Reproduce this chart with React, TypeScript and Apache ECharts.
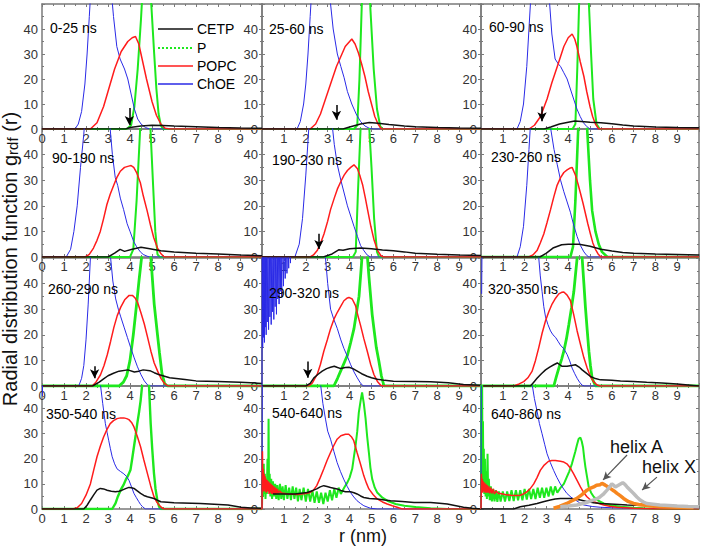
import React, { useEffect, useRef } from 'react';
import * as echarts from 'echarts';

type Pt = [number, number];

const FONT = '"Liberation Sans", Arial, Helvetica, sans-serif';

// ---- panel time windows ----
const panelLabels = ['0-25 ns', '25-60 ns', '60-90 ns', '90-190 ns', '190-230 ns', '230-260 ns',
  '260-290 ns', '290-320 ns', '320-350 ns', '350-540 ns', '540-640 ns', '640-860 ns'];

const seriesNames = ['CETP', 'P', 'POPC', 'ChOE'];

// ---- Panel 1: 0-25 ns ----
const cetp1: Pt[] = [[0,0],[3.8,0],[4.0,0.6],[4.5,1.2],[5.0,1.5],[5.5,1.4],[6.0,1.2],[7.0,0.9],[8.0,0.6],[9.0,0.4],[10,0.3]];
const p1: Pt[] = [[0,0],[3.85,0],[4.05,1.5],[4.2,9],[4.35,24],[4.5,44],[4.6,60],[4.75,90],[4.9,60],[5.0,45],[5.1,30],[5.2,16],[5.3,6],[5.4,1.5],[5.5,0],[10,0]];
const popc1: Pt[] = [[0,0],[2.2,0],[2.5,2.5],[2.8,9],[3.0,15],[3.3,24],[3.6,31],[3.9,35],[4.1,36.5],[4.25,37],[4.4,34],[4.55,28],[4.75,20],[5.0,11],[5.2,5.5],[5.4,2],[5.6,0.3],[5.8,0],[10,0]];
const choe1: Pt[] = [[0,0],[1.5,0],[1.65,2],[1.8,7],[1.95,18],[2.05,30],[2.15,45],[2.25,60],[2.7,120],[3.1,60],[3.25,45],[3.4,33],[3.55,28],[3.75,24],[3.9,20],[4.05,14],[4.2,8],[4.35,4],[4.5,2],[4.7,0.6],[4.9,0],[10,0]];

// ---- Panel 2: 25-60 ns ----
const cetp2: Pt[] = [[0,0],[3.7,0],[4.0,0.8],[4.5,2],[4.9,2.6],[5.3,2.3],[5.8,1.8],[6.5,1.2],[7,0.9],[8,0.6],[9,0.4],[10,0.3]];
const p2: Pt[] = [[0,0],[4.2,0],[4.35,1.5],[4.45,20],[4.55,48],[4.75,95],[4.95,48],[5.1,24],[5.25,8],[5.4,1],[5.5,0],[10,0]];
const popc2: Pt[] = [[0,0],[2.2,0],[2.45,2],[2.67,6],[2.9,12],[3.13,18],[3.4,25],[3.6,29],[3.8,33],[4.0,35],[4.1,36],[4.25,34],[4.4,30.5],[4.55,26],[4.7,21],[4.85,15],[5.0,10],[5.15,5],[5.3,2],[5.45,0],[10,0]];
const choe2: Pt[] = [[0,0],[1.6,0],[1.75,3],[1.9,10],[2.0,18],[2.1,30],[2.2,45],[2.3,60],[2.7,120],[3.0,65],[3.13,50],[3.25,40],[3.44,30],[3.6,25],[3.75,20.5],[3.9,15],[4.1,10],[4.3,6],[4.5,3],[4.7,1.2],[4.9,0.3],[5.1,0],[10,0]];

// ---- Panel 3: 60-90 ns ----
const cetp3: Pt[] = [[0,0],[2.9,0],[3.2,0.8],[3.6,2],[4.0,2.7],[4.3,3.2],[4.6,3.0],[5.0,2.7],[5.5,2.5],[6.0,2.1],[6.5,1.6],[7,1.2],[8,0.8],[9,0.6],[10,0.5]];
const p3: Pt[] = [[0,0],[4.2,0],[4.33,2],[4.42,25],[4.5,50],[4.72,95],[4.95,50],[5.05,30],[5.15,12],[5.3,2],[5.45,0],[10,0]];
const popc3: Pt[] = [[0,0],[2.2,0],[2.45,1.5],[2.73,5],[3.03,12],[3.25,18.5],[3.5,25],[3.8,33],[4.0,36.5],[4.18,38],[4.3,36],[4.4,33],[4.55,27],[4.72,21],[4.85,15],[5.0,9],[5.12,5],[5.25,2],[5.4,0],[10,0]];
const choe3: Pt[] = [[0,0],[1.65,0],[1.8,3],[1.95,10],[2.1,25],[2.2,40],[2.3,55],[2.7,120],[3.05,62],[3.15,50],[3.25,38],[3.4,28],[3.55,26],[3.65,25],[3.8,22.5],[3.95,20],[4.1,16],[4.25,12],[4.4,8],[4.55,5],[4.7,2.5],[4.85,1],[5.0,0],[10,0]];

// ---- Panel 4: 90-190 ns ----
const cetp4: Pt[] = [[0,0],[3.0,0],[3.3,1.5],[3.55,3],[3.75,2.2],[4.1,3],[4.5,3.8],[4.9,3.2],[5.4,2.4],[6,2],[7,1.5],[8,1.2],[9,0.8],[10,0.5]];
const p4: Pt[] = [[0,0],[4.0,0],[4.15,3],[4.3,22],[4.45,48],[4.7,95],[4.93,50],[5.05,28],[5.15,10],[5.25,1],[5.35,0],[10,0]];
const popc4: Pt[] = [[0,0],[1.96,0],[2.15,1],[2.34,3.5],[2.5,6.5],[2.65,10],[2.8,15],[2.95,20.5],[3.1,24.5],[3.26,28],[3.4,31],[3.56,33.5],[3.75,35],[3.94,35.5],[4.05,35.7],[4.17,35],[4.3,33],[4.47,29],[4.6,24],[4.78,18],[4.93,12.5],[5.08,7.5],[5.25,3.5],[5.39,1.5],[5.55,0],[10,0]];
const choe4: Pt[] = [[0,0],[1.1,0],[1.3,3],[1.45,10],[1.6,20],[1.75,35],[1.9,48],[2.0,60],[2.6,120],[3.0,65],[3.1,50],[3.2,40],[3.33,31],[3.44,28],[3.56,23],[3.71,18.5],[3.87,13],[4.0,10],[4.17,6],[4.3,4],[4.47,2],[4.6,1],[4.78,0.3],[4.9,0],[10,0]];

// ---- Panel 5: 190-230 ns ----
const cetp5: Pt[] = [[0,0],[2.8,0],[3.2,1.2],[3.5,2.8],[3.7,2.6],[4.0,3.2],[4.5,3.5],[5.0,3.2],[5.5,2.7],[6,2.4],[6.5,2],[7,1.5],[8,1.1],[9,0.8],[10,0.6]];
const p5: Pt[] = [[0,0],[4.15,0],[4.28,2],[4.38,25],[4.5,50],[4.7,95],[4.9,50],[5.0,35],[5.12,15],[5.25,2],[5.35,0],[10,0]];
const popc5: Pt[] = [[0,0],[2.2,0],[2.35,0.8],[2.52,2.5],[2.68,5.5],[2.83,9],[3.0,14],[3.13,18.5],[3.3,23],[3.44,26.5],[3.6,29.5],[3.75,32],[3.9,33.8],[4.05,35],[4.2,36],[4.36,34.5],[4.48,31.5],[4.6,28],[4.72,23],[4.82,18.5],[4.97,12],[5.12,6.5],[5.28,2.5],[5.43,0.5],[5.55,0],[10,0]];
const choe5: Pt[] = [[0,0],[1.5,0],[1.7,5],[1.85,15],[2.0,32],[2.15,52],[2.7,120],[3.1,62],[3.2,52],[3.3,44],[3.44,36],[3.6,30],[3.75,25],[3.9,20],[4.05,16],[4.2,12],[4.36,8],[4.5,4.5],[4.66,2.4],[4.8,0.8],[4.95,0],[10,0]];

// ---- Panel 6: 230-260 ns ----
const cetp6: Pt[] = [[0,0],[2.7,0],[3.0,1.5],[3.3,3.5],[3.7,4.8],[4.0,5],[4.5,5],[5.0,4.2],[5.5,3],[6,2.3],[6.5,1.8],[7,1.5],[8,1.2],[9,1],[10,0.8]];
const p6: Pt[] = [[0,0],[4.1,0],[4.22,4],[4.33,22],[4.45,48],[4.65,90],[4.87,50],[5.0,30],[5.1,18],[5.25,10],[5.4,5],[5.55,2],[5.8,0],[10,0]];
const popc6: Pt[] = [[0,0],[2.19,0],[2.38,0.8],[2.57,2.5],[2.72,5.5],[2.88,9],[3.03,13.5],[3.19,18.5],[3.34,23.5],[3.49,28],[3.65,31],[3.8,33],[3.95,34],[4.1,34.8],[4.18,35],[4.33,32],[4.45,28.5],[4.56,25],[4.68,21],[4.79,17],[4.9,13],[5.02,9],[5.13,5.5],[5.25,3],[5.37,1.2],[5.5,0],[10,0]];
const choe6: Pt[] = [[0,0],[1.65,0],[1.8,4],[1.95,12],[2.1,28],[2.2,42],[2.3,56],[2.7,120],[3.1,62],[3.2,50],[3.35,42],[3.5,36],[3.65,30],[3.8,25.5],[3.95,21.5],[4.1,17.5],[4.25,12.5],[4.41,8],[4.56,4.5],[4.72,2],[4.85,0.6],[4.95,0],[10,0]];

// ---- Panel 7: 260-290 ns ----
const cetp7: Pt[] = [[0,0],[2.3,0],[2.6,1.5],[2.8,2.8],[3.0,4],[3.25,5],[3.5,5.8],[3.9,6.3],[4.2,5.5],[4.4,5.8],[4.6,6.3],[4.9,6],[5.1,5.2],[5.3,4.5],[5.8,3.2],[6.5,2.5],[7,2],[8,1.8],[9,1.5],[10,1]];
const p7: Pt[] = [[0,0],[3.5,0],[3.7,1.5],[3.85,4],[4.0,10],[4.15,20],[4.3,32],[4.42,42],[4.55,52],[4.75,60],[4.95,50],[5.1,32],[5.25,20],[5.34,13],[5.45,5],[5.57,1],[5.7,0],[10,0]];
const popc7: Pt[] = [[0,0],[2.28,0],[2.45,1.5],[2.66,4.4],[2.82,8],[2.97,12.3],[3.12,17.5],[3.27,23],[3.42,27.5],[3.58,30.8],[3.77,33.8],[3.96,35.4],[4.11,35.4],[4.22,34.5],[4.34,32.8],[4.5,28.5],[4.65,24.2],[4.8,19],[4.95,13.6],[5.1,9],[5.26,5.7],[5.42,2.8],[5.57,1],[5.72,0],[10,0]];
const choe7: Pt[] = [[0,0],[1.67,0],[1.8,3],[1.9,8],[2.0,18],[2.1,32],[2.2,50],[2.7,120],[3.05,60],[3.12,50],[3.22,41],[3.35,34],[3.47,30],[3.58,27],[3.73,23],[3.88,19],[4.03,15],[4.19,11],[4.34,7.5],[4.5,4.4],[4.65,2],[4.8,0.4],[4.9,0],[10,0]];

// ---- Panel 8: 290-320 ns ----
const cetp8: Pt[] = [[0,0],[2.0,0],[2.2,1],[2.37,3.2],[2.55,4.5],[2.75,5.8],[2.95,6.8],[3.13,7.3],[3.3,7.7],[3.45,7.2],[3.6,6.8],[3.8,7.2],[3.97,7.3],[4.15,6.8],[4.35,5.8],[4.55,4.8],[4.8,3.8],[5.0,3.2],[5.27,2.6],[5.6,2.2],[6.0,1.9],[7.0,1.8],[7.7,1.7],[8.5,1.3],[9.2,0.6],[10,0.3]];
const p8: Pt[] = [[0,0],[3.28,0],[3.45,3],[3.59,5.8],[3.75,9],[3.9,12],[4.05,17],[4.2,22.4],[4.32,29],[4.43,35],[4.52,45],[4.58,52],[4.7,58],[4.8,52],[4.88,43],[4.96,35],[5.03,28],[5.11,22.4],[5.22,15],[5.34,9.6],[5.45,4],[5.57,0],[10,0]];
const popc8: Pt[] = [[0,0],[2.14,0],[2.3,1.2],[2.52,4.5],[2.67,8.5],[2.82,13.5],[2.98,18],[3.13,22.4],[3.28,26],[3.44,28.8],[3.6,31.2],[3.74,33.3],[3.9,34.4],[3.97,34.6],[4.12,34],[4.27,31.4],[4.38,27.5],[4.5,23.7],[4.65,18.5],[4.81,13.5],[4.96,8.5],[5.11,4.5],[5.27,1.8],[5.42,0.3],[5.5,0],[10,0]];
const choe8: Pt[] = [[0,0],[0.01,70],[0.03,15],[0.05,62],[0.07,19],[0.09,58],[0.11,17],[0.13,66],[0.15,23],[0.17,55],[0.19,20],[0.21,61],[0.24,25],[0.27,57],[0.3,22],[0.33,64],[0.36,27],[0.39,58],[0.42,24],[0.45,62],[0.48,29],[0.51,59],[0.54,26],[0.57,65],[0.6,31],[0.63,60],[0.66,28],[0.69,63],[0.72,34],[0.75,58],[0.78,32],[0.81,62],[0.84,37],[0.87,60],[0.9,35],[0.94,64],[0.98,39],[1.02,61],[1.06,42],[1.1,65],[1.14,44],[1.18,62],[1.22,46],[1.26,66],[1.3,48],[1.35,70],[1.45,90],[2.4,120],[2.8,62],[2.9,50],[3.0,40],[3.13,30],[3.28,26],[3.44,22.4],[3.6,18],[3.74,14.7],[3.9,11.5],[4.05,8.3],[4.2,5.5],[4.35,3.2],[4.47,1.5],[4.58,0.3],[4.65,0],[10,0]];

// ---- Panel 9: 320-350 ns ----
const cetp9: Pt[] = [[0,0],[2.27,0],[2.42,1.5],[2.57,3],[2.77,4.8],[2.96,6.3],[3.15,7.4],[3.34,8.3],[3.5,9],[3.6,8.4],[3.72,7.7],[3.95,7.7],[4.15,8],[4.33,8.3],[4.5,7.4],[4.64,6.3],[4.83,5],[5.02,3.7],[5.25,2.9],[5.48,2.4],[6.0,2.2],[6.4,2],[7.0,1.8],[7.6,1.5],[8.3,1.2],[9,0.8],[9.5,0.4],[10,0]];
const p9: Pt[] = [[0,0],[3.34,0],[3.45,3.5],[3.57,7],[3.7,10.5],[3.8,13.6],[3.92,18.5],[4.03,24],[4.15,30.5],[4.26,37],[4.34,44],[4.41,50],[4.52,60],[4.64,50],[4.72,40],[4.79,30.8],[4.87,22],[4.95,13.6],[5.02,8],[5.1,3],[5.25,0],[10,0]];
const popc9: Pt[] = [[0,0],[1.5,0],[1.75,0.8],[1.96,1.7],[2.15,3.2],[2.34,5.7],[2.5,10],[2.65,15],[2.8,20.5],[2.96,25.5],[3.11,29],[3.26,32],[3.42,34.3],[3.57,36],[3.7,36.6],[3.8,36.7],[3.95,35.5],[4.1,33.4],[4.25,28],[4.41,21.5],[4.57,16],[4.72,11],[4.87,7],[5.02,3.7],[5.17,1.6],[5.33,0.4],[5.45,0],[10,0]];
const choe9: Pt[] = [[0.03,36],[0.07,80],[2.55,120],[2.65,50],[2.72,43],[2.8,37],[2.88,31],[2.96,27],[3.07,24],[3.19,21.5],[3.3,20],[3.42,19],[3.53,17.5],[3.64,16],[3.8,14.5],[3.95,12.3],[4.07,9.8],[4.18,7],[4.3,4.8],[4.41,3],[4.52,1.5],[4.64,0.3],[4.75,0],[10,0]];

// ---- Panel 10: 350-540 ns ----
const cetp10: Pt[] = [[0,0],[1.9,0],[2.05,1.5],[2.2,3.6],[2.35,5.6],[2.5,7.5],[2.65,8.2],[2.8,8],[2.96,7.5],[3.15,7.1],[3.34,6.9],[3.5,7.1],[3.64,7.5],[3.8,8.1],[3.95,8.6],[4.07,8.5],[4.18,8.2],[4.33,7.2],[4.48,6.2],[4.63,5.4],[4.79,4.9],[5.09,4.2],[5.25,3.5],[5.4,2.9],[6,2.5],[7.2,2.2],[8.45,1.6],[9.05,0.7],[9.5,0.4],[10,0.3]];
const p10: Pt[] = [[0,0],[3.19,0],[3.34,2.2],[3.45,5],[3.57,7.5],[3.7,9.5],[3.8,11.5],[3.92,13.5],[4.02,15.5],[4.1,20],[4.18,24.8],[4.26,29.5],[4.33,34],[4.41,38.5],[4.48,43],[4.56,50],[4.7,60],[4.86,50],[4.94,34],[5.01,24],[5.09,14.2],[5.16,8],[5.24,3.6],[5.32,1],[5.4,0],[10,0]];
const popc10: Pt[] = [[0,0],[1.4,0],[1.6,0.5],[1.8,2.2],[2.0,5.5],[2.2,10],[2.35,15.5],[2.5,20.8],[2.65,25],[2.8,28.7],[2.95,31.6],[3.1,34],[3.25,35.2],[3.41,36],[3.57,36.3],[3.72,36.3],[3.85,36],[3.95,35.6],[4.07,34.5],[4.18,32.7],[4.33,29],[4.48,24.8],[4.63,19.5],[4.79,14.2],[4.94,9.2],[5.09,4.9],[5.2,3],[5.32,1.6],[5.45,0.5],[5.55,0],[10,0]];
const choe10: Pt[] = [[0.02,45],[0.05,80],[2.5,120],[2.65,50],[2.76,42],[2.88,34],[2.96,30.5],[3.03,27.4],[3.11,24],[3.19,20.8],[3.3,18],[3.41,16],[3.56,15],[3.72,14],[3.84,13],[3.95,11.5],[4.07,8.8],[4.18,6.2],[4.29,4.5],[4.4,2.9],[4.48,1.8],[4.56,1],[4.7,0],[10,0]];

// ---- Panel 11: 540-640 ns ----
const cetp11: Pt[] = [[0.5,6],[0.8,6],[1.5,6],[2.06,6.6],[2.3,7.3],[2.5,8],[2.66,8.8],[2.82,9.3],[2.97,9],[3.13,8.6],[3.28,8.3],[3.43,8],[3.6,7.4],[3.81,6.9],[4.04,6.9],[4.2,6.5],[4.34,6],[4.5,5.2],[4.65,4.6],[4.9,4.2],[5.26,4],[5.6,3.6],[5.87,3.3],[6.4,3],[6.94,2.6],[7.7,2.6],[8.1,2.3],[8.46,2],[8.8,1.4],[9.2,0.7],[9.6,0.3],[10,0]];
const p11: Pt[] = [[0,0],[0.02,12],[0.05,5],[0.08,18],[0.1,6],[0.13,14],[0.16,4],[0.19,11],[0.22,6],[0.25,20],[0.28,8],[0.3,36],[0.32,9],[0.35,14],[0.38,5],[0.42,12],[0.46,4],[0.5,11],[0.55,5],[0.6,10],[0.65,4],[0.7,9.5],[0.76,3.5],[0.82,10],[0.88,4],[0.94,9],[1.0,3.5],[1.08,9.5],[1.16,4],[1.24,8.5],[1.32,3.5],[1.4,9],[1.48,4],[1.56,8.5],[1.64,3],[1.72,8],[1.8,3.5],[1.9,8.5],[2.0,3],[2.1,8],[2.2,3],[2.3,7.5],[2.4,2.5],[2.5,7],[2.6,2.5],[2.7,6.5],[2.8,2],[2.9,6.5],[3.0,3],[3.1,7.5],[3.2,3.5],[3.3,8],[3.4,4.5],[3.5,8.5],[3.6,6],[3.75,8.5],[3.9,10.6],[4.0,12.5],[4.12,16],[4.2,21],[4.27,25],[4.35,31],[4.42,38.4],[4.5,43],[4.57,46.4],[4.65,42],[4.73,36],[4.8,29],[4.88,22.5],[4.95,16.5],[5.03,12],[5.15,8.5],[5.26,6.6],[5.5,4.5],[5.72,3.3],[6.1,2],[6.5,1.3],[7.0,0.8],[7.7,0.3],[8.5,0],[10,0]];
const popc11: Pt[] = [[0,0],[0.02,23],[0.04,9],[0.06,16],[0.08,7],[0.1,14],[0.12,8],[0.14,13],[0.16,7],[0.18,12],[0.2,6.5],[0.23,11.5],[0.26,7],[0.29,11],[0.32,6],[0.35,10.5],[0.38,6.5],[0.41,10],[0.44,6],[0.47,9.5],[0.5,6],[0.54,9],[0.58,5.8],[0.62,8.5],[0.66,6],[0.7,8],[0.75,6.2],[0.8,7.2],[0.9,6.4],[1.2,6],[1.6,5.8],[2.0,6.2],[2.2,6.6],[2.35,7.5],[2.5,9.3],[2.66,12.5],[2.82,15.9],[2.97,19.3],[3.13,22.5],[3.28,25.3],[3.43,27.8],[3.6,29.2],[3.81,29.8],[3.96,29.8],[4.08,28.8],[4.19,27.2],[4.34,22.5],[4.5,17.8],[4.65,13.2],[4.77,10.3],[4.88,8],[5.07,5.8],[5.26,4],[5.5,2.8],[5.72,2],[5.95,1.3],[6.17,0.7],[6.4,0],[10,0]];
const choe11: Pt[] = [[0,0],[0.02,80],[2.5,120],[2.67,50],[2.78,42],[2.9,35.8],[3.0,31],[3.13,27.8],[3.28,23],[3.43,18.5],[3.58,15],[3.73,11.9],[3.89,9],[4.04,6.6],[4.19,4.8],[4.34,3.3],[4.5,2.2],[4.65,1.3],[4.95,0.3],[5.26,0],[10,0]];

// ---- Panel 12: 640-860 ns ----
const cetp12: Pt[] = [[0,0],[1.5,0],[1.8,0.9],[2.2,1.5],[2.57,2.2],[2.9,3],[3.18,3.6],[3.4,4],[3.64,4.2],[4.1,4.2],[4.35,3.9],[4.56,3.6],[4.85,3],[5.17,2.5],[5.5,2.2],[5.93,2],[6.7,1.6],[7.5,1.4],[8.2,1.2],[9,0.9],[9.9,0.6],[10,0.6]];
const p12: Pt[] = [[0,0],[0.01,80],[0.03,12],[0.05,55],[0.07,10],[0.09,35],[0.11,8],[0.13,24],[0.15,6],[0.18,20],[0.21,5],[0.24,15],[0.27,4],[0.3,22],[0.33,5],[0.36,12],[0.4,3.5],[0.45,9],[0.5,3],[0.56,8],[0.62,3],[0.68,7.5],[0.75,2.8],[0.82,7],[0.9,3],[1.0,7],[1.1,3],[1.2,7],[1.3,3.2],[1.4,7.5],[1.5,3.2],[1.6,7.5],[1.7,3.5],[1.8,7.5],[1.9,3.5],[2.0,8],[2.1,3.8],[2.2,8],[2.3,4],[2.4,8],[2.5,4],[2.6,8.5],[2.7,4.5],[2.8,8.5],[2.9,4.5],[3.0,8.5],[3.1,5],[3.2,9],[3.3,5.5],[3.4,9],[3.5,6.5],[3.65,8.5],[3.8,10],[3.94,12.8],[4.05,15],[4.17,18],[4.25,20.5],[4.33,23],[4.4,25.5],[4.48,28],[4.56,28.5],[4.62,27],[4.68,24.6],[4.74,20],[4.79,16.7],[4.87,12.5],[4.94,8.8],[5.05,6.5],[5.17,4.9],[5.4,3.2],[5.63,2.2],[6.0,1.4],[6.4,0.9],[7.0,0.5],[7.46,0.3],[8.2,0],[10,0]];
const popc12: Pt[] = [[0,0],[0.02,14],[0.04,7],[0.06,12],[0.08,6.5],[0.1,11],[0.13,7],[0.16,10.5],[0.19,6.5],[0.22,10],[0.25,6.5],[0.28,9.5],[0.32,6.5],[0.36,9],[0.4,6.2],[0.45,8.5],[0.5,6.2],[0.56,8],[0.62,6],[0.7,7.2],[0.8,6.2],[0.89,6.2],[1.1,5.8],[1.35,5.5],[1.6,5.4],[1.8,5.5],[1.95,6],[2.1,6.8],[2.25,8],[2.42,10],[2.57,12.5],[2.72,15.4],[2.9,17.5],[3.1,19],[3.25,19.3],[3.41,19.3],[3.64,19],[3.8,18.7],[3.94,18],[4.1,16.3],[4.25,14],[4.4,11.5],[4.56,8.8],[4.7,6.7],[4.86,4.9],[5.0,3.8],[5.17,2.9],[5.4,2.2],[5.63,1.6],[5.9,1.1],[6.24,0.7],[7,0.3],[8,0],[10,0]];
const choe12: Pt[] = [[0,0],[0.02,80],[2.2,120],[2.34,50],[2.45,44],[2.57,39],[2.68,34],[2.8,30],[2.92,25.8],[3.03,22],[3.18,18.5],[3.33,15.4],[3.48,12.6],[3.64,10],[3.79,8],[3.94,6.2],[4.13,4.7],[4.33,3.6],[4.52,2.5],[4.71,1.6],[5.1,1],[5.47,0.7],[6.0,0.5],[6.7,0.3],[7.5,0.1],[10,0]];
const helixA12: Pt[] = [[3.33,0.3],[3.6,1],[3.94,2.2],[4.15,3.2],[4.4,4.2],[4.6,5.5],[4.86,7.5],[5.0,8.2],[5.17,8.8],[5.3,9.5],[5.47,9.7],[5.55,10.2],[5.7,9.5],[5.8,9],[5.93,8.2],[6.1,7.2],[6.24,6.2],[6.4,5.2],[6.54,4.2],[6.75,3],[7.0,2.2],[7.23,1.8],[7.46,1.6],[7.8,1.2],[8.2,0.9],[9.0,0.7],[9.75,0.6]];
const helixX12: Pt[] = [[3.64,0.9],[4.0,1.2],[4.4,1.6],[4.8,2.5],[5.17,3.6],[5.35,4.2],[5.47,4.9],[5.6,5.8],[5.78,7.5],[5.9,8.8],[6.0,10],[6.08,9.5],[6.16,8.8],[6.3,9.5],[6.4,10],[6.5,10.5],[6.6,9.8],[6.7,8.8],[6.85,7.5],[7.0,6.2],[7.15,4.8],[7.3,3.6],[7.45,2.8],[7.6,2.2],[7.9,1.9],[8.2,1.6],[8.6,1.4],[9.0,1.2],[9.5,1],[10,0.9]];

const cetpAll = [cetp1, cetp2, cetp3, cetp4, cetp5, cetp6, cetp7, cetp8, cetp9, cetp10, cetp11, cetp12];
const pAll = [p1, p2, p3, p4, p5, p6, p7, p8, p9, p10, p11, p12];
const popcAll = [popc1, popc2, popc3, popc4, popc5, popc6, popc7, popc8, popc9, popc10, popc11, popc12];
const choeAll = [choe1, choe2, choe3, choe4, choe5, choe6, choe7, choe8, choe9, choe10, choe11, choe12];

// down arrows (panel index, r, y from, y to) in data units
const arrowPanels = [0, 1, 2, 4, 6, 7];
const arrowR = [3.97, 3.4, 2.8, 2.6, 2.39, 2.09];
const arrowTop = [8.4, 9.6, 9.0, 9.1, 7.7, 9.6];
const arrowBottom = [1.6, 3.7, 3.1, 3.1, 3.0, 3.2];

// ---- layout ----
const colLeft = [42, 262, 481];
const colWidth = [220, 219, 218];
const rowTop = [4, 129, 258, 386];
const rowHeight = [125, 128, 128, 123];
const rowMax = [50, 50, 50, 49];
const labelPos: [number, number][] = [[50, 28], [269, 29], [489, 27], [52, 158], [272, 160], [491, 157],
  [48, 289], [269, 293], [488, 289], [46, 414], [272, 413], [491, 414]];
const greenWidth = [2, 2, 2, 2, 2, 2.6, 2.8, 2.8, 2.8, 2.4, 2, 2];

const C_BLACK = '#111111';
const C_GREEN = '#1ee81e';
const C_RED = '#ff1c1c';
const C_BLUE = '#2a2ae6';
const C_ORANGE = '#f7861e';
const C_GREY = '#bdbdbd';
const AXIS = '#7a7a7a';

function buildOption() {
  const grid: any[] = [];
  const xAxis: any[] = [];
  const yAxis: any[] = [];
  const series: any[] = [];
  const graphic: any[] = [];

  for (let i = 0; i < 12; i++) {
    const row = Math.floor(i / 3);
    const col = i % 3;
    grid.push({ left: colLeft[col], top: rowTop[row], width: colWidth[col], height: rowHeight[row], containLabel: false });
    const line = { show: true, onZero: false, lineStyle: { color: AXIS, width: 1.5 } };
    const tick = { show: true, inside: true, length: 3, lineStyle: { color: AXIS } };
    const minor = { show: true, splitNumber: 2, length: 2, lineStyle: { color: AXIS } };
    xAxis.push({
      gridIndex: i, type: 'value', min: 0, max: 10, interval: 1, position: 'bottom',
      axisLine: line, axisTick: tick, minorTick: minor, splitLine: { show: false },
      axisLabel: { color: '#333', fontSize: 13, fontFamily: FONT, margin: 3, showMaxLabel: false, showMinLabel: col === 0 },
    });
    xAxis.push({
      gridIndex: i, type: 'value', min: 0, max: 10, interval: 1, position: 'top',
      axisLine: line, axisTick: tick, minorTick: minor, splitLine: { show: false }, axisLabel: { show: false },
    });
    yAxis.push({
      gridIndex: i, type: 'value', min: 0, max: rowMax[row], interval: 10, position: 'left',
      axisLine: line, axisTick: tick, minorTick: minor, splitLine: { show: false },
      axisLabel: { color: '#333', fontSize: 13, fontFamily: FONT, margin: 4, showMaxLabel: false },
    });
    yAxis.push({
      gridIndex: i, type: 'value', min: 0, max: rowMax[row], interval: 10, position: 'right',
      axisLine: line, axisTick: tick, minorTick: minor, splitLine: { show: false }, axisLabel: { show: false },
    });

    const base = { type: 'line', xAxisIndex: 2 * i, yAxisIndex: 2 * i, showSymbol: false, symbol: 'none', clip: true, silent: true, animation: false };
    series.push({ ...base, name: 'P', data: pAll[i], lineStyle: { color: C_GREEN, width: greenWidth[i] }, itemStyle: { color: C_GREEN } });
    series.push({ ...base, name: 'ChOE', data: choeAll[i], lineStyle: { color: C_BLUE, width: 1 }, itemStyle: { color: C_BLUE } });
    series.push({ ...base, name: 'POPC', data: popcAll[i], lineStyle: { color: C_RED, width: 1.5 }, itemStyle: { color: C_RED } });
    const ai = arrowPanels.indexOf(i);
    const cetpSeries: any = { ...base, name: 'CETP', data: cetpAll[i], lineStyle: { color: C_BLACK, width: 1.5 }, itemStyle: { color: C_BLACK } };
    if (ai >= 0) {
      cetpSeries.markLine = {
        silent: true, animation: false, symbolSize: [7, 9],
        label: { show: false },
        lineStyle: { color: '#000', width: 1.5, type: 'solid' },
        data: [[{ coord: [arrowR[ai], arrowTop[ai]], symbol: 'none' }, { coord: [arrowR[ai], arrowBottom[ai]], symbol: 'arrow' }]],
      };
    }
    series.push(cetpSeries);
    if (i === 11) {
      series.push({
        ...base, name: 'helix A', data: helixA12, lineStyle: { color: C_ORANGE, width: 3.5 }, itemStyle: { color: C_ORANGE },
        markLine: {
          silent: true, animation: false, symbolSize: [6, 8], label: { show: false },
          lineStyle: { color: '#555', width: 1.2, type: 'solid' },
          data: [[{ coord: [6.7, 21.5], symbol: 'none' }, { coord: [5.6, 11.6], symbol: 'arrow' }]],
        },
      });
      series.push({
        ...base, name: 'helix X', data: helixX12, lineStyle: { color: C_GREY, width: 3.5 }, itemStyle: { color: C_GREY },
        markLine: {
          silent: true, animation: false, symbolSize: [6, 8], label: { show: false },
          lineStyle: { color: '#555', width: 1.2, type: 'solid' },
          data: [[{ coord: [8.07, 12.7], symbol: 'none' }, { coord: [7.39, 7.6], symbol: 'arrow' }]],
        },
      });
    }

    graphic.push({
      type: 'text', x: labelPos[i][0], y: labelPos[i][1], z: 100,
      style: { text: panelLabels[i], font: `14px ${FONT}`, fill: '#000', align: 'left', verticalAlign: 'middle' },
    });
  }

  // legend (panel 1)
  const legColors = [C_BLACK, C_GREEN, C_RED, C_BLUE];
  const legY = [29, 48, 66, 84];
  for (let k = 0; k < 4; k++) {
    graphic.push({
      type: 'line', z: 100,
      shape: { x1: 158, y1: legY[k], x2: 193, y2: legY[k] },
      style: { stroke: legColors[k], lineWidth: k === 1 ? 2 : 1.5, lineDash: k === 1 ? [2, 2] : null },
    });
    graphic.push({
      type: 'text', x: 197, y: legY[k], z: 100,
      style: { text: seriesNames[k], font: `14px ${FONT}`, fill: '#000', align: 'left', verticalAlign: 'middle' },
    });
  }

  // helix annotations
  graphic.push({ type: 'text', x: 610, y: 447, z: 100, style: { text: 'helix A', font: `18px ${FONT}`, fill: '#111', align: 'left', verticalAlign: 'middle' } });
  graphic.push({ type: 'text', x: 642, y: 467, z: 100, style: { text: 'helix X', font: `18px ${FONT}`, fill: '#111', align: 'left', verticalAlign: 'middle' } });

  // axis titles
  graphic.push({
    type: 'text', x: 10, y: 259, rotation: Math.PI / 2, z: 100,
    style: {
      text: '{a|Radial distribution function g}{b|rdf}{a| (r)}',
      align: 'center', verticalAlign: 'middle', fill: '#111',
      rich: {
        a: { fontSize: 20, fontFamily: FONT, fill: '#111', verticalAlign: 'bottom' },
        b: { fontSize: 15, fontFamily: FONT, fill: '#111', lineHeight: 8, verticalAlign: 'bottom' },
      },
    },
  });
  graphic.push({
    type: 'text', x: 363, y: 536, z: 100,
    style: { text: 'r (nm)', font: `18px ${FONT}`, fill: '#111', align: 'center', verticalAlign: 'middle' },
  });

  return { animation: false, backgroundColor: '#ffffff', grid, xAxis, yAxis, series, graphic };
}

export default function App() {
  const ref = useRef<HTMLDivElement>(null);
  useEffect(() => {
    if (!ref.current) return;
    const chart = echarts.init(ref.current, undefined, { renderer: 'svg' });
    chart.setOption(buildOption() as any);
    return () => chart.dispose();
  }, []);
  return <div ref={ref} style={{ position: 'absolute', left: 0, top: 0, width: 703, height: 549, background: '#fff' }} />;
}
